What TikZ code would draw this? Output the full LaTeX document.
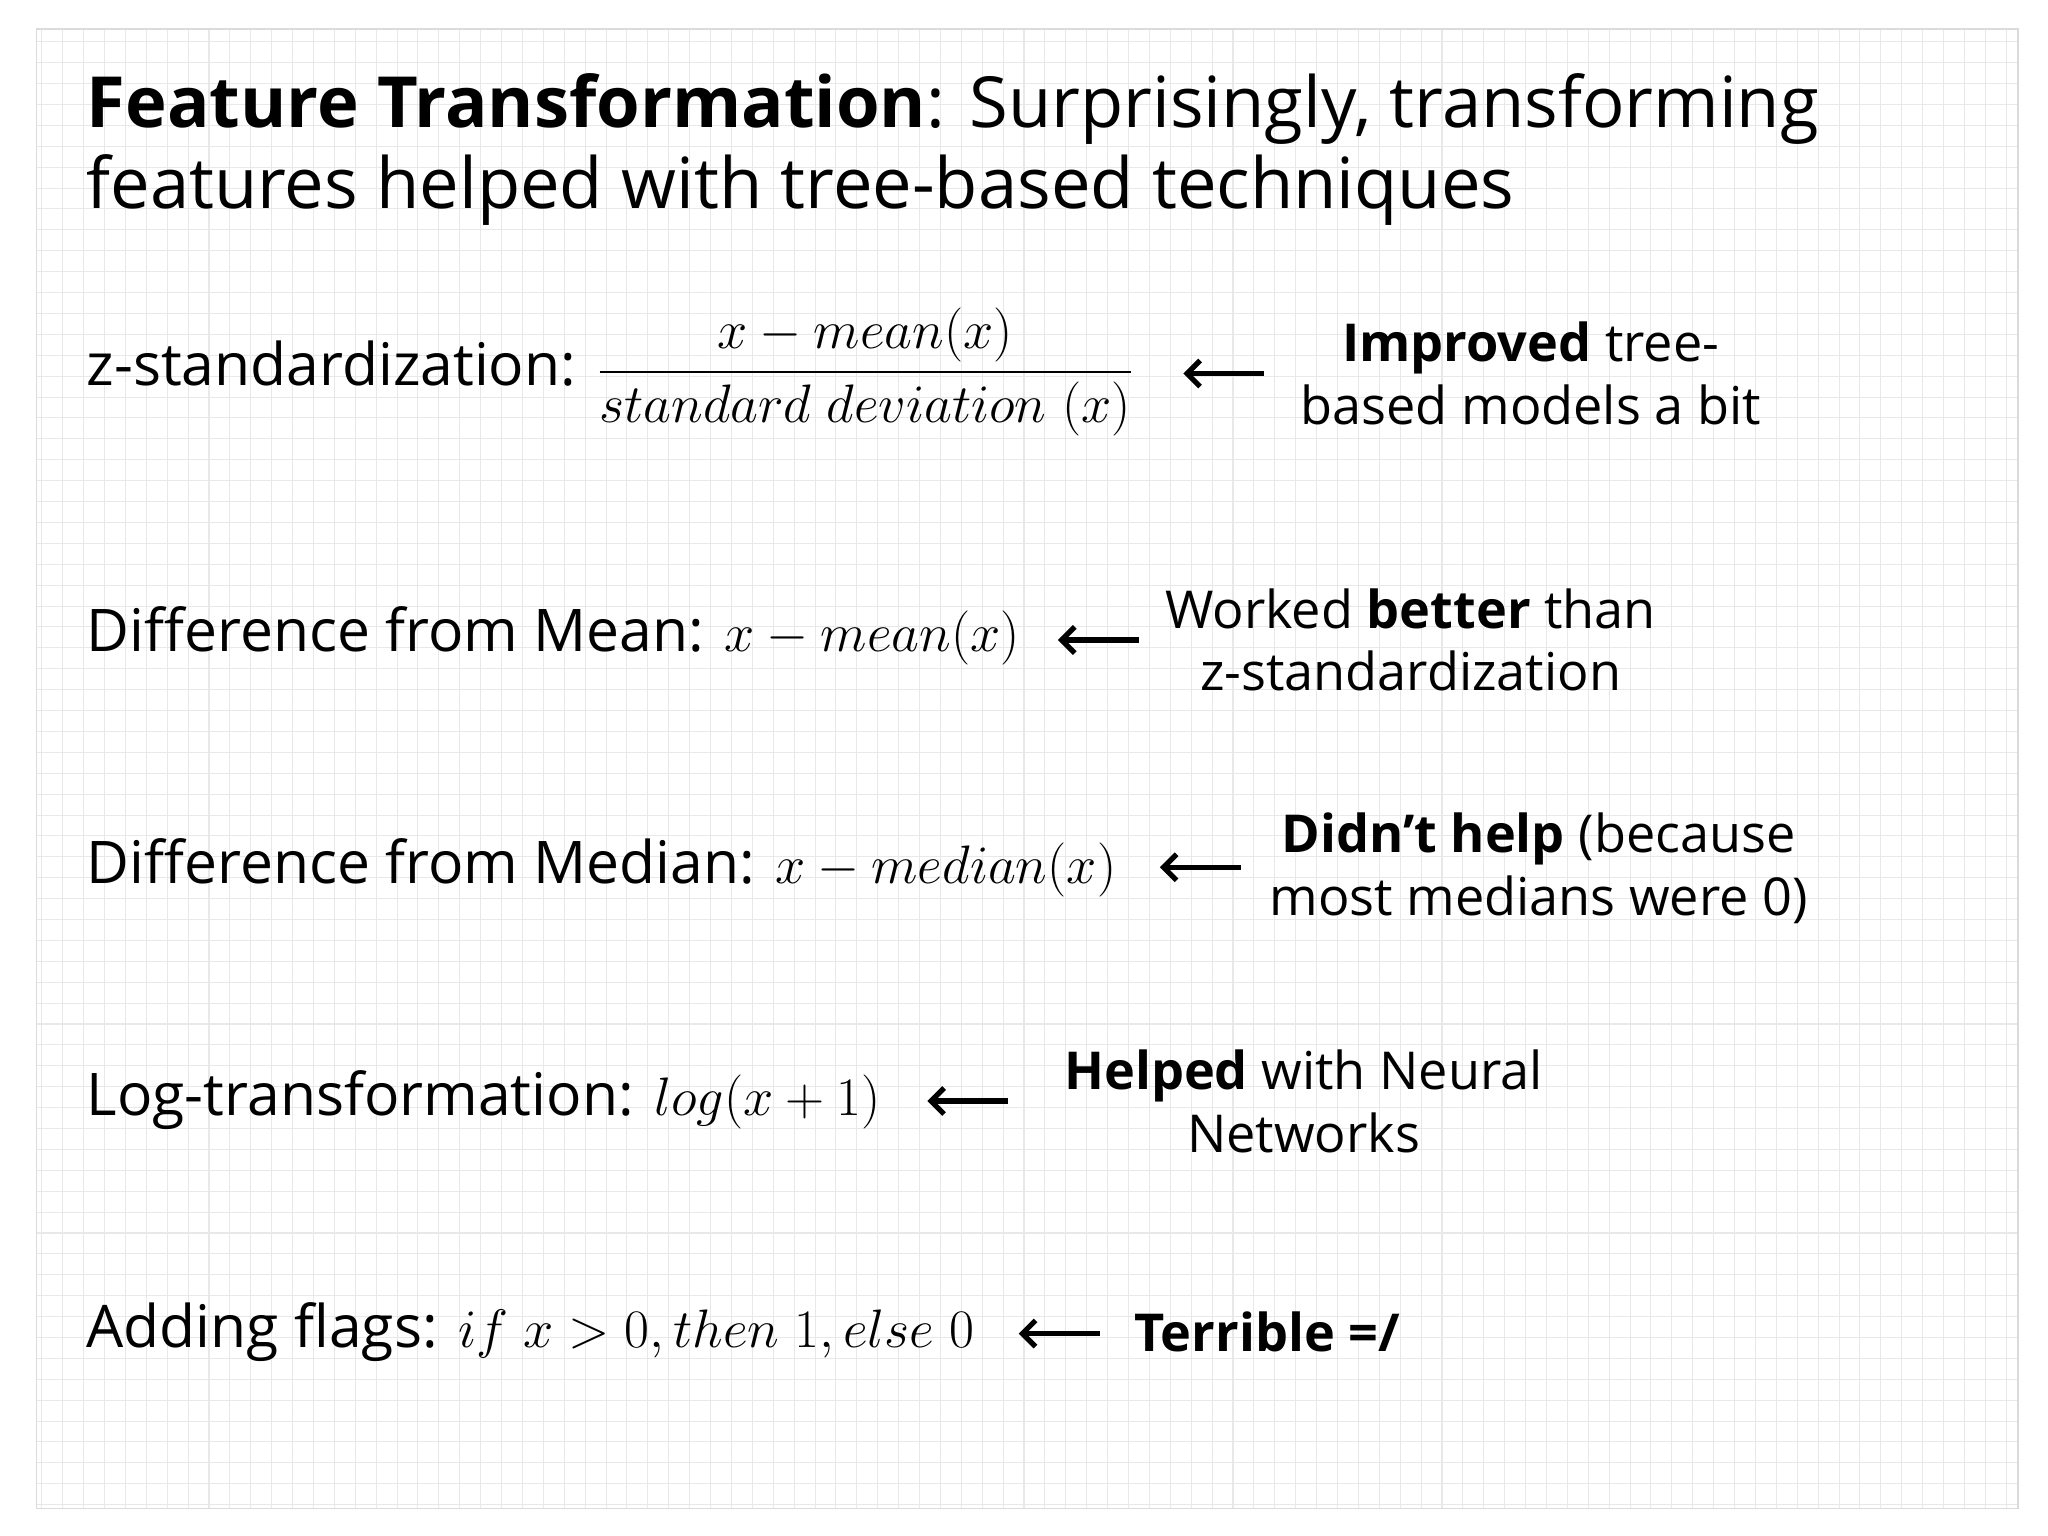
\documentclass[tikz,border=0pt]{standalone}
\usepackage{fontspec}
\setmainfont{Open Sans}
\usetikzlibrary{arrows.meta}
\tikzset{
 lbl/.style={anchor=west,inner sep=0pt,font=\fontsize{22.5}{26}\selectfont},
 note/.style={align=center,inner sep=0pt,font=\fontsize{20}{24}\selectfont},
 arr/.style={{Straight Barb[length=5pt,width=10pt]}-,line width=2pt}
}
\begin{document}
\begin{tikzpicture}[x=0.5pt,y=-0.5pt]
\useasboundingbox (0,0) rectangle (1568,1176);
\fill[white] (0,0) rectangle (1568,1176);
\draw[black!9,line width=0.4pt,step=8pt] (28,22) grid (1545,1155);
\draw[black!14,line width=0.6pt] (28,22) rectangle (1545,1155);
\node[anchor=north west,inner sep=0pt,align=left,font=\fontsize{27}{31}\selectfont] (title) at (66,56)
 {\textbf{Feature Transformation}: Surprisingly, transforming\\features helped with tree-based techniques};
\node[lbl] (r1) at (66,285) {z-standardization: $\displaystyle\frac{x-mean(x)}{standard\ deviation\ (x)}$};
\node[note] (c1) at (1172,286) {\textbf{Improved} tree-\\based models a bit};
\node[lbl] (r2) at (66,487) {Difference from Mean: $x-mean(x)$};
\node[note] (c2) at (1080,490) {Worked \textbf{better} than\\z-standardization};
\node[lbl] (r3) at (66,664) {Difference from Median: $x-median(x)$};
\node[note] (c3) at (1178,665) {\textbf{Didn’t help} (because\\most medians were 0)};
\node[lbl] (r4) at (66,842) {Log-transformation: $log(x+1)$};
\node[note] (c4) at (998,843) {\textbf{Helped} with Neural\\Networks};
\node[lbl] (r5) at (66,1020) {Adding flags: $if\ x>0, then\ 1, else\ 0$};
\node[note,anchor=west] (c5) at (868,1020) {\textbf{Terrible =/}};
\coordinate (h1) at (906,286); \coordinate (t1) at (968,286);
\coordinate (h2) at (810,490); \coordinate (t2) at (872,490);
\coordinate (h3) at (888,664); \coordinate (t3) at (950,664);
\coordinate (h4) at (710,843); \coordinate (t4) at (772,843);
\coordinate (h5) at (780,1021); \coordinate (t5) at (842,1021);
\foreach \i in {1,...,5} \draw[arr] (h\i) -- (t\i);
\end{tikzpicture}
\end{document}
